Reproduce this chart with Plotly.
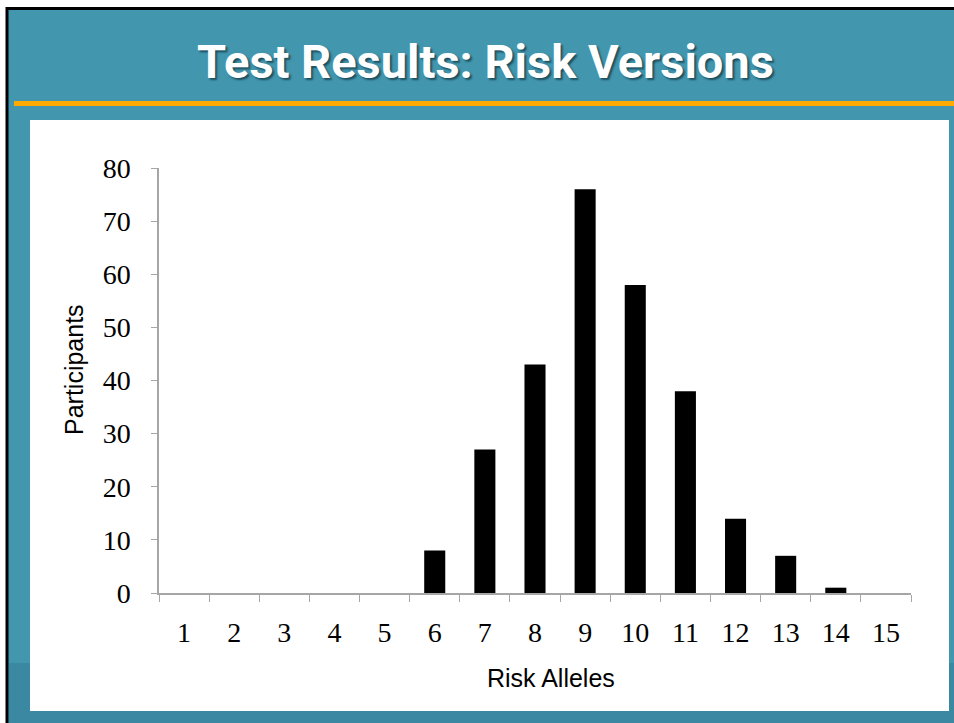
import plotly.graph_objects as go

risk_alleles = [str(i) for i in range(1, 16)]
participants = [0, 0, 0, 0, 0, 8, 27, 43, 76, 58, 38, 14, 7, 1, 0]
y_ticks = [0, 10, 20, 30, 40, 50, 60, 70, 80]

W, H = 954, 723
L, R, T, B = 159, 911, 168, 593  # plot area in pixels

def px(x):
    return (x - L) / (R - L)

def py(y):
    return (B - y) / (B - T)

TEAL = "#4296AE"
fig = go.Figure()
fig.add_trace(go.Bar(
    x=risk_alleles, y=participants,
    marker=dict(color="black", line=dict(width=0)),
    width=0.42,
))

shapes = [
    dict(type="rect", xref="paper", yref="paper", x0=px(7), x1=px(W + 5), y0=py(H + 5), y1=py(8.5),
         fillcolor=TEAL, line=dict(color="black", width=3), layer="below"),
    dict(type="rect", xref="paper", yref="paper", x0=px(9), x1=px(W + 5), y0=py(H + 5), y1=py(663),
         fillcolor="#3A88A1", line=dict(width=0), layer="below"),
    dict(type="rect", xref="paper", yref="paper", x0=px(14), x1=px(W + 5), y0=py(106), y1=py(101),
         fillcolor="#FFAA00", line=dict(width=0), layer="below"),
    dict(type="rect", xref="paper", yref="paper", x0=px(30), x1=px(949), y0=py(711), y1=py(120),
         fillcolor="white", line=dict(width=0), layer="below"),
]

title_text = "Test Results: Risk Versions"
annotations = [
    dict(text=title_text, xref="paper", yref="paper", x=px(485), y=py(62), showarrow=False,
         font=dict(family="Roboto, DejaVu Sans", size=47, color="white", weight="bold",
                   shadow="2px 2px 2px #1E4F5E"),
         xanchor="center", yanchor="middle"),
    dict(text="Risk Alleles", xref="paper", yref="paper", x=px(551), y=py(678), showarrow=False,
         font=dict(family="Liberation Sans, Arial", size=25, color="black"),
         xanchor="center", yanchor="middle"),
    dict(text="Participants", xref="paper", yref="paper", x=px(74), y=py(370), showarrow=False,
         textangle=-90, font=dict(family="Liberation Sans, Arial", size=25, color="black"),
         xanchor="center", yanchor="middle"),
]

fig.update_layout(
    width=W, height=H,
    margin=dict(l=L, r=W - R, t=T, b=H - B, pad=0),
    paper_bgcolor="white", plot_bgcolor="rgba(0,0,0,0)",
    showlegend=False, bargap=0.58,
    shapes=shapes, annotations=annotations,
    xaxis=dict(
        type="category", tickson="boundaries", ticks="outside", ticklen=7,
        tickcolor="#A6A6A6", showline=True, linecolor="#A6A6A6", linewidth=1.5,
        showgrid=False, zeroline=False, ticklabelstandoff=14,
        tickfont=dict(family="Liberation Serif, Times New Roman", size=28, color="black"),
        fixedrange=True,
    ),
    yaxis=dict(
        range=[0, 80], tickvals=y_ticks, ticks="outside", ticklen=6,
        tickcolor="#A6A6A6", showline=True, linecolor="#A6A6A6", linewidth=1.5,
        showgrid=False, zeroline=False, ticklabelstandoff=15,
        tickfont=dict(family="Liberation Serif, Times New Roman", size=28, color="black"),
        fixedrange=True,
    ),
)

fig.write_html("out.html", config={"displayModeBar": False},
               post_script="document.body.style.margin='0';document.body.style.overflow='hidden';")
